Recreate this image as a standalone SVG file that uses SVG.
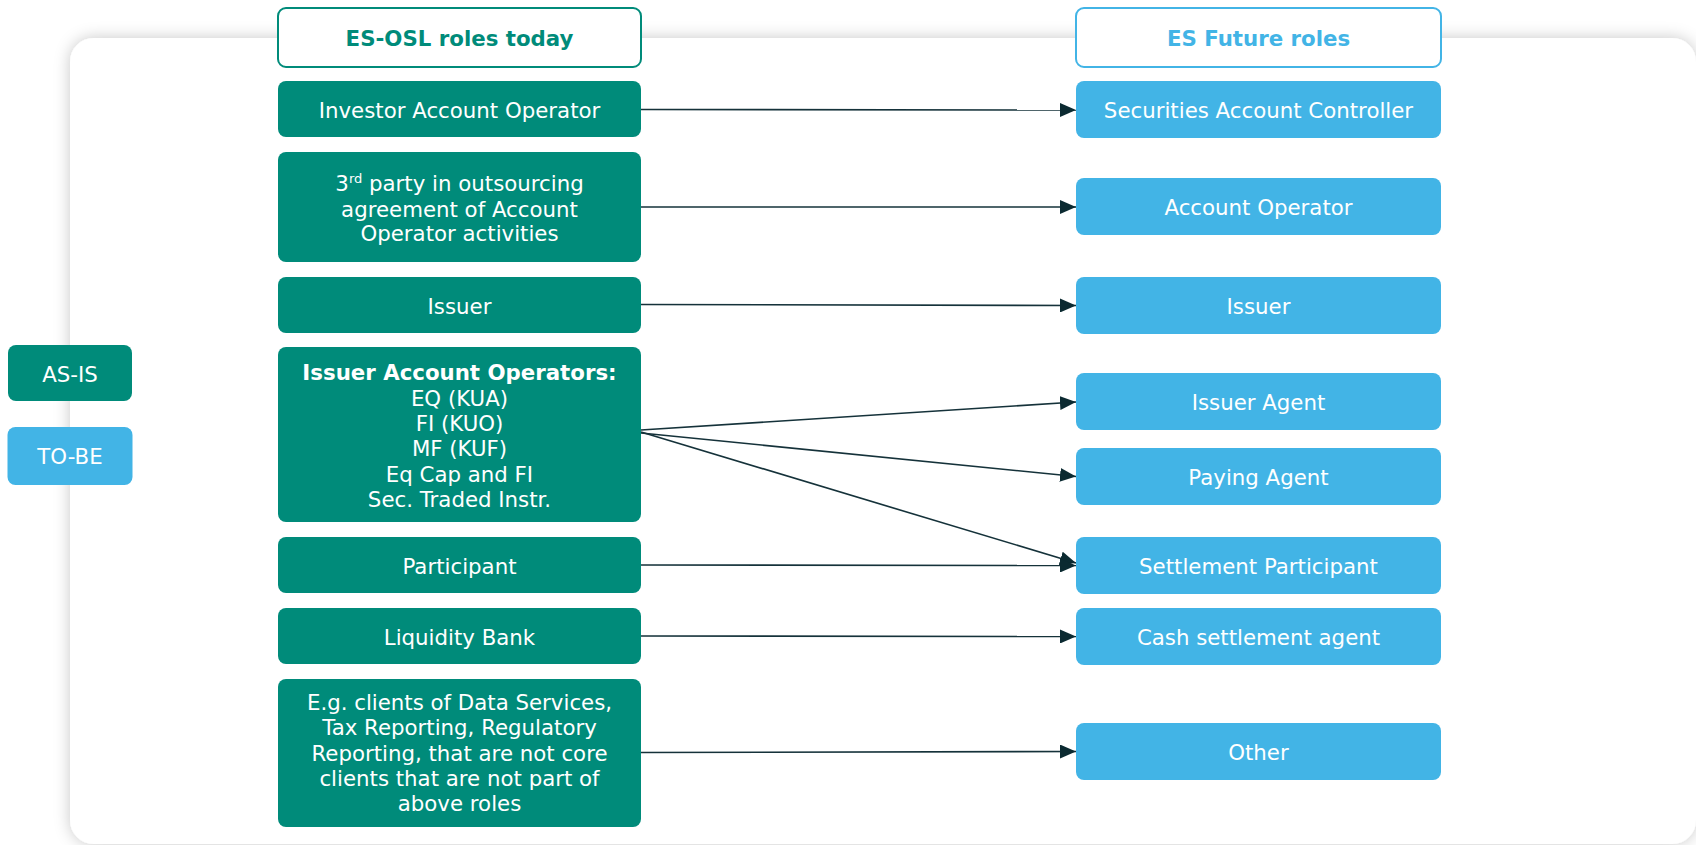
<svg xmlns="http://www.w3.org/2000/svg" width="1696" height="845" viewBox="0 0 1696 845">
<style>
  text { font-family: "DejaVu Sans", Verdana, sans-serif; font-size: 21.3px; text-anchor: middle; }
  .asis { fill: #008B7A; }
  .tobe { fill: #42B4E6; }
  .wt { fill: #ffffff; }
  .b { font-weight: bold; }
  .hdrL { fill: #ffffff; stroke: #008B7A; stroke-width: 2; }
  .hdrR { fill: #ffffff; stroke: #42B4E6; stroke-width: 2; }
  .conn { stroke: #15323A; stroke-width: 1.6; fill: none; marker-end: url(#arr); }
</style>
<defs>
  <filter id="shadow" x="-5%" y="-10%" width="110%" height="120%">
    <feDropShadow dx="0" dy="0" stdDeviation="8" flood-color="#000000" flood-opacity="0.22"/>
  </filter>
  <marker id="arr" markerUnits="userSpaceOnUse" markerWidth="16" markerHeight="14" refX="16" refY="7" orient="auto">
    <path d="M0,0 L16,7 L0,14 z" fill="#0B2A31"/>
  </marker>
</defs>
<rect width="1696" height="845" fill="#ffffff"/>
<rect id="panel" x="70" y="38" width="1626" height="806" rx="24" fill="#ffffff" filter="url(#shadow)"/>

<g id="connectors">
  <line class="conn" x1="641" y1="109.5" x2="1076" y2="110"/>
  <line class="conn" x1="641" y1="207" x2="1076" y2="207"/>
  <line class="conn" x1="641" y1="304.5" x2="1076" y2="305.5"/>
  <line class="conn" x1="641" y1="430" x2="1076" y2="402"/>
  <line class="conn" x1="641" y1="433" x2="1076" y2="476.5"/>
  <line class="conn" x1="641" y1="432" x2="1076" y2="563"/>
  <line class="conn" x1="641" y1="565" x2="1076" y2="565.5"/>
  <line class="conn" x1="641" y1="636" x2="1076" y2="636.5"/>
  <line class="conn" x1="641" y1="752.5" x2="1076" y2="751.5"/>
</g>

<g id="legend-asis">
  <rect class="asis" x="8" y="345" width="124" height="56" rx="8"/>
  <text class="wt" x="70" y="381.5">AS-IS</text>
</g>
<g id="legend-tobe">
  <rect class="tobe" x="7.5" y="427" width="125" height="58" rx="8"/>
  <text class="wt" x="70" y="464">TO-BE</text>
</g>

<g id="hdr-left">
  <rect class="hdrL" x="278" y="8" width="363" height="59" rx="8"/>
  <text class="b" x="459.5" y="45.5" fill="#008B7A">ES-OSL roles today</text>
</g>
<g id="hdr-right">
  <rect class="hdrR" x="1076" y="8" width="365" height="59" rx="8"/>
  <text class="b" x="1258.5" y="45.5" fill="#42B4E6">ES Future roles</text>
</g>

<g id="l-investor">
  <rect class="asis" x="278" y="81" width="363" height="56" rx="8"/>
  <text class="wt" x="459.5" y="118">Investor Account Operator</text>
</g>
<g id="l-third">
  <rect class="asis" x="278" y="152" width="363" height="110" rx="8"/>
  <text class="wt" x="459.5" y="191">3<tspan font-size="13" dy="-8">rd</tspan><tspan dy="8"> party in outsourcing</tspan></text>
  <text class="wt" x="459.5" y="216.5">agreement of Account</text>
  <text class="wt" x="459.5" y="241">Operator activities</text>
</g>
<g id="l-issuer">
  <rect class="asis" x="278" y="277" width="363" height="56" rx="8"/>
  <text class="wt" x="459.5" y="313.5">Issuer</text>
</g>
<g id="l-iao">
  <rect class="asis" x="278" y="347" width="363" height="175" rx="8"/>
  <text class="wt b" x="459.5" y="380">Issuer Account Operators:</text>
  <text class="wt" x="459.5" y="405.5">EQ (KUA)</text>
  <text class="wt" x="459.5" y="431">FI (KUO)</text>
  <text class="wt" x="459.5" y="456">MF (KUF)</text>
  <text class="wt" x="459.5" y="481.5">Eq Cap and FI</text>
  <text class="wt" x="459.5" y="507">Sec. Traded Instr.</text>
</g>
<g id="l-participant">
  <rect class="asis" x="278" y="537" width="363" height="56" rx="8"/>
  <text class="wt" x="459.5" y="573.5">Participant</text>
</g>
<g id="l-liquidity">
  <rect class="asis" x="278" y="608" width="363" height="56" rx="8"/>
  <text class="wt" x="459.5" y="644.5">Liquidity Bank</text>
</g>
<g id="l-other">
  <rect class="asis" x="278" y="679" width="363" height="148" rx="8"/>
  <text class="wt" x="459.5" y="710">E.g. clients of Data Services,</text>
  <text class="wt" x="459.5" y="735.3">Tax Reporting, Regulatory</text>
  <text class="wt" x="459.5" y="760.6">Reporting, that are not core</text>
  <text class="wt" x="459.5" y="786">clients that are not part of</text>
  <text class="wt" x="459.5" y="811.3">above roles</text>
</g>

<g id="r-sac">
  <rect class="tobe" x="1076" y="81" width="365" height="57" rx="8"/>
  <text class="wt" x="1258.5" y="118">Securities Account Controller</text>
</g>
<g id="r-ao">
  <rect class="tobe" x="1076" y="178" width="365" height="57" rx="8"/>
  <text class="wt" x="1258.5" y="215">Account Operator</text>
</g>
<g id="r-issuer">
  <rect class="tobe" x="1076" y="277" width="365" height="57" rx="8"/>
  <text class="wt" x="1258.5" y="314">Issuer</text>
</g>
<g id="r-issuer-agent">
  <rect class="tobe" x="1076" y="373" width="365" height="57" rx="8"/>
  <text class="wt" x="1258.5" y="410">Issuer Agent</text>
</g>
<g id="r-paying-agent">
  <rect class="tobe" x="1076" y="448" width="365" height="57" rx="8"/>
  <text class="wt" x="1258.5" y="485">Paying Agent</text>
</g>
<g id="r-settlement">
  <rect class="tobe" x="1076" y="537" width="365" height="57" rx="8"/>
  <text class="wt" x="1258.5" y="574">Settlement Participant</text>
</g>
<g id="r-cash">
  <rect class="tobe" x="1076" y="608" width="365" height="57" rx="8"/>
  <text class="wt" x="1258.5" y="645">Cash settlement agent</text>
</g>
<g id="r-other">
  <rect class="tobe" x="1076" y="723" width="365" height="57" rx="8"/>
  <text class="wt" x="1258.5" y="760">Other</text>
</g>
</svg>
